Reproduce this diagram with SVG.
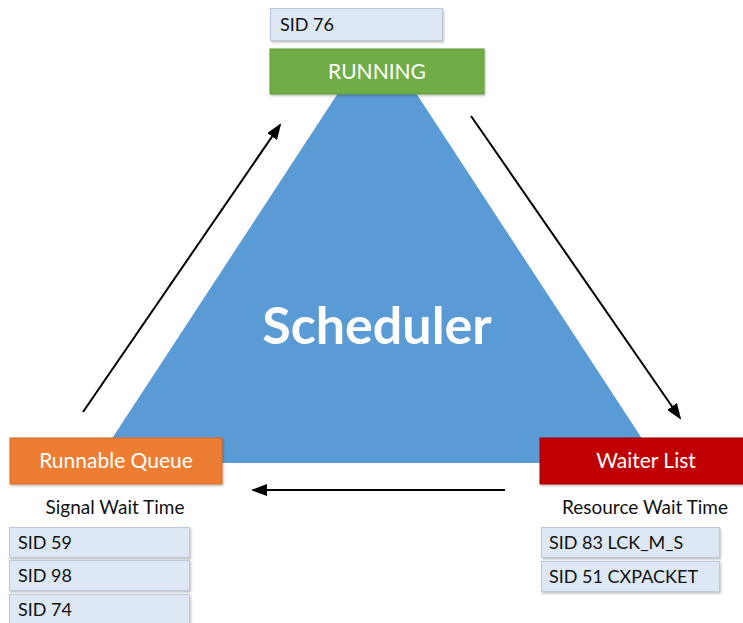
<svg xmlns="http://www.w3.org/2000/svg" width="743" height="623" viewBox="0 0 743 623">
<defs>
<style>
.t{font-family:Lato,"Open Sans","Liberation Sans",sans-serif}
.sid{fill:#dde8f4;stroke:#b9c9da;stroke-width:1}
.sidt{font-size:18px;fill:#111}
.hdr{font-size:21px;fill:#fff}
.sub{font-size:19px;fill:#111}
.conn{stroke:#000;stroke-width:2;fill:none;marker-end:url(#ah)}
</style>
<marker id="ah" markerWidth="16" markerHeight="12" refX="14" refY="6" orient="auto" markerUnits="userSpaceOnUse" viewBox="0 0 16 12">
<path d="M0,0 L16,6 L0,12 z" fill="#000"/>
</marker>
<filter id="sh" x="-5%" y="-5%" width="110%" height="120%">
<feDropShadow dx="1" dy="1.5" stdDeviation="1.2" flood-color="#000" flood-opacity="0.25"/>
</filter>
</defs>
<rect width="743" height="623" fill="#fff"/>
<g id="scheduler">
<polygon points="340,90 414,90 658,463 96,463" fill="#5b9bd5"/>
<text class="t" x="377" y="344" text-anchor="middle" font-size="52" font-weight="bold" fill="#fff">Scheduler</text>
</g>
<g id="connectors">
<line class="conn" x1="83" y1="412" x2="280" y2="125"/>
<line class="conn" x1="471" y1="116" x2="680" y2="418"/>
<line class="conn" x1="505" y1="490" x2="253" y2="490"/>
</g>
<g id="sid76">
<rect class="sid" x="270.5" y="8.5" width="172" height="32" filter="url(#sh)"/>
<text class="t sidt" x="280" y="31">SID 76</text>
</g>
<g id="running">
<rect x="270" y="49" width="214" height="45" fill="#70ad47" stroke="#5e9a3a" filter="url(#sh)"/>
<text class="t hdr" x="377" y="79" text-anchor="middle">RUNNING</text>
</g>
<g id="runnable-queue">
<rect x="10" y="438" width="212" height="46" fill="#ed7d31" stroke="#d56a22" filter="url(#sh)"/>
<text class="t hdr" x="116" y="468" text-anchor="middle">Runnable Queue</text>
<text class="t sub" x="115" y="514" text-anchor="middle">Signal Wait Time</text>
</g>
<g id="sid59">
<rect class="sid" x="9.5" y="527.5" width="180" height="30" filter="url(#sh)"/>
<text class="t sidt" x="18" y="549">SID 59</text>
</g>
<g id="sid98">
<rect class="sid" x="9.5" y="560.5" width="180" height="30" filter="url(#sh)"/>
<text class="t sidt" x="18" y="582">SID 98</text>
</g>
<g id="sid74">
<rect class="sid" x="9.5" y="594.5" width="180" height="32" filter="url(#sh)"/>
<text class="t sidt" x="18" y="616">SID 74</text>
</g>
<g id="waiter-list">
<rect x="540" y="438" width="205" height="46" fill="#c00000" stroke="#a00000" filter="url(#sh)"/>
<text class="t hdr" x="646" y="468" text-anchor="middle">Waiter List</text>
<text class="t sub" x="645" y="514" text-anchor="middle">Resource Wait Time</text>
</g>
<g id="sid83">
<rect class="sid" x="541.5" y="527.5" width="178" height="30" filter="url(#sh)"/>
<text class="t sidt" x="549" y="549">SID 83 LCK_M_S</text>
</g>
<g id="sid51">
<rect class="sid" x="541.5" y="561.5" width="178" height="30" filter="url(#sh)"/>
<text class="t sidt" x="549" y="583">SID 51 CXPACKET</text>
</g>
</svg>
